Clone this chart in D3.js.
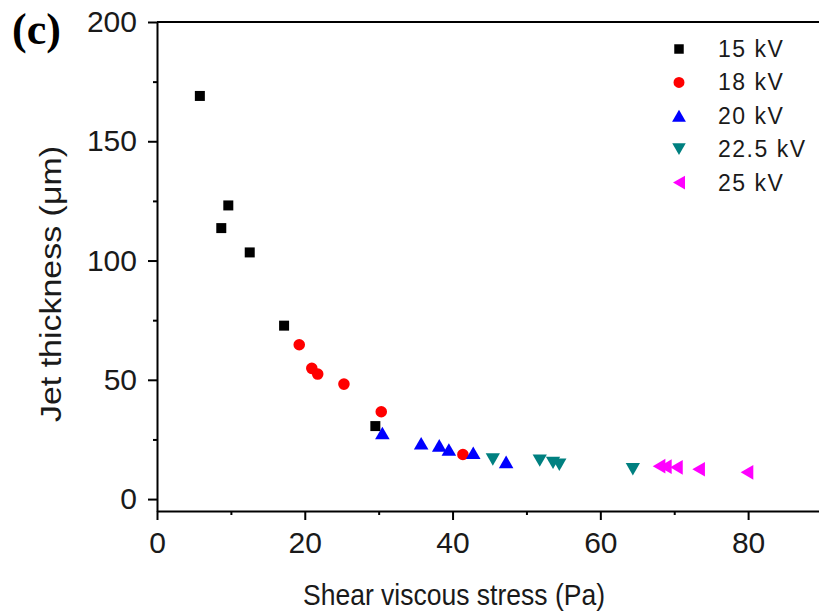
<!DOCTYPE html>
<html>
<head>
<meta charset="utf-8">
<style>
    body { margin: 0; background: #fff; }
    svg { display: block; font-family: "Liberation Sans", Arial, sans-serif; }
    .axis .domain { stroke: #000; stroke-width: 2; }
    .axis .tick line { stroke: #000; stroke-width: 2; }
    .axis .tick text { font-size: 30px; fill: #1a1a1a; }
    .minor .domain { display: none; }
    .minor .tick text { display: none; }
    .legend text { font-size: 23px; fill: #1a1a1a; letter-spacing: 1.5px; }
    .title { font-size: 30px; fill: #1a1a1a; }
    .panel { font-family: "Liberation Serif", "Times New Roman", serif; font-weight: bold; font-size: 44px; }
</style>
</head>
<body>
<svg width="819" height="616"></svg>

<script src="https://cdn.jsdelivr.net/npm/d3@7"></script>
<script>
    // series
    const voltages = ["15 kV", "18 kV", "20 kV", "22.5 kV", "25 kV"]
    const colors = ["#000000", "#ff0000", "#0000ff", "#008080", "#ff00ff"]
    const shapes = ["square", "circle", "up", "down", "left"]

    const stress15 = [5.8, 9.65, 8.7, 12.55, 17.2, 29.55]
    const thick15 = [169.0, 123.1, 113.6, 103.4, 72.7, 30.6]

    const stress18 = [19.25, 20.95, 21.75, 25.3, 30.35, 41.4]
    const thick18 = [64.7, 54.8, 52.4, 48.2, 36.6, 18.7]

    const stress20 = [30.5, 35.75, 38.2, 39.5, 42.8, 47.25]
    const thick20 = [27.7, 23.4, 22.5, 20.8, 19.4, 15.6]

    const stress225 = [45.45, 51.8, 53.6, 54.45, 64.4]
    const thick225 = [16.6, 16.1, 15.2, 14.4, 12.5]

    const stress25 = [67.95, 68.8, 70.3, 73.3, 79.85]
    const thick25 = [13.8, 13.6, 13.3, 12.5, 11.2]

    const xTicks = [0, 20, 40, 60, 80]
    const xMinor = [10, 30, 50, 70, 90]
    const yTicks = [0, 50, 100, 150, 200]
    const yMinor = [25, 75, 125, 175]

    const stressList = [stress15, stress18, stress20, stress225, stress25]
    const thickList = [thick15, thick18, thick20, thick225, thick25]

    const series = voltages.map((v, i) => ({
        name: v,
        color: colors[i],
        shape: shapes[i],
        points: stressList[i].map((s, j) => ({ x: s, y: thickList[i][j] }))
    }))

    const svg = d3.select("svg")

    const x = d3.scaleLinear().domain([0, 90]).range([157, 822])
    const y = d3.scaleLinear().domain([-5, 200]).range([511, 22])

    // marker shapes, centred on their bounding box
    const symSize = { square: 100, circle: 105, up: 92, down: 88, left: 92 }
    const symType = { square: d3.symbolSquare, circle: d3.symbolCircle, up: d3.symbolTriangle, down: d3.symbolTriangle, left: d3.symbolTriangle }
    const rot = { square: 0, circle: 0, up: 0, down: 180, left: -90 }

    function markerTransform(shape, px, py, scale) {
        // d3 triangle sits on its centroid; shift to bbox centre
        let off = 0
        if (shape == "up" || shape == "down" || shape == "left") {
            off = Math.sqrt(symSize[shape] * scale / (3 * Math.sqrt(3))) / 2
        }
        return `translate(${px},${py}) rotate(${rot[shape]}) translate(0,${off})`
    }

    // axes
    const xAxis = svg.append("g")
        .attr("class", "axis")
        .attr("transform", `translate(0,${y(-5)})`)
        .call(d3.axisBottom(x).tickValues(xTicks).tickSize(9).tickPadding(11).tickSizeOuter(0))
    xAxis.selectAll(".tick text").attr("dy", "0.72em")

    svg.append("g")
        .attr("class", "axis minor")
        .attr("transform", `translate(0,${y(-5)})`)
        .call(d3.axisBottom(x).tickValues(xMinor).tickSize(4))

    svg.append("g")
        .attr("class", "axis")
        .attr("transform", `translate(${x(0)},0)`)
        .call(d3.axisLeft(y).tickValues(yTicks).tickSize(9).tickPadding(11).tickSizeOuter(0))

    svg.append("g")
        .attr("class", "axis minor")
        .attr("transform", `translate(${x(0)},0)`)
        .call(d3.axisLeft(y).tickValues(yMinor).tickSize(4))

    // top frame line
    svg.append("line")
        .attr("x1", x(0)).attr("x2", x(90))
        .attr("y1", y(200)).attr("y2", y(200))
        .style("stroke", "#000")
        .style("stroke-width", 2)

    // points
    const groups = svg.append("g")
        .selectAll("g")
        .data(series)
        .join("g")

    groups.selectAll("path")
        .data(d => d.points.map(p => ({ ...p, shape: d.shape, color: d.color })))
        .join("path")
        .attr("d", d => d3.symbol().type(symType[d.shape]).size(symSize[d.shape])())
        .attr("transform", d => markerTransform(d.shape, x(d.x), y(d.y), 1))
        .attr("fill", d => d.color)

    // legend
    const legScale = 0.9
    const legend = svg.append("g").attr("class", "legend")
    const leg = legend.selectAll("g")
        .data(series)
        .join("g")
        .attr("transform", (d, i) => `translate(679,${49 + i * 33.4})`)

    leg.append("path")
        .attr("d", d => d3.symbol().type(symType[d.shape]).size(symSize[d.shape] * legScale)())
        .attr("transform", d => markerTransform(d.shape, 0, 0, legScale))
        .attr("fill", d => d.color)

    leg.append("text")
        .attr("x", 39)
        .attr("dy", "0.35em")
        .text(d => d.name)

    // titles
    svg.append("text")
        .attr("class", "title")
        .attr("x", 454)
        .attr("y", 605)
        .attr("text-anchor", "middle")
        .attr("textLength", 302)
        .attr("lengthAdjust", "spacingAndGlyphs")
        .text("Shear viscous stress (Pa)")

    svg.append("text")
        .attr("class", "title")
        .attr("transform", "translate(61,284) rotate(-90)")
        .attr("text-anchor", "middle")
        .attr("textLength", 276)
        .attr("lengthAdjust", "spacingAndGlyphs")
        .text("Jet thickness (\u03bcm)")

    svg.append("text")
        .attr("class", "panel")
        .attr("x", 12)
        .attr("y", 44)
        .text("(c)")
</script>
</body>
</html>
